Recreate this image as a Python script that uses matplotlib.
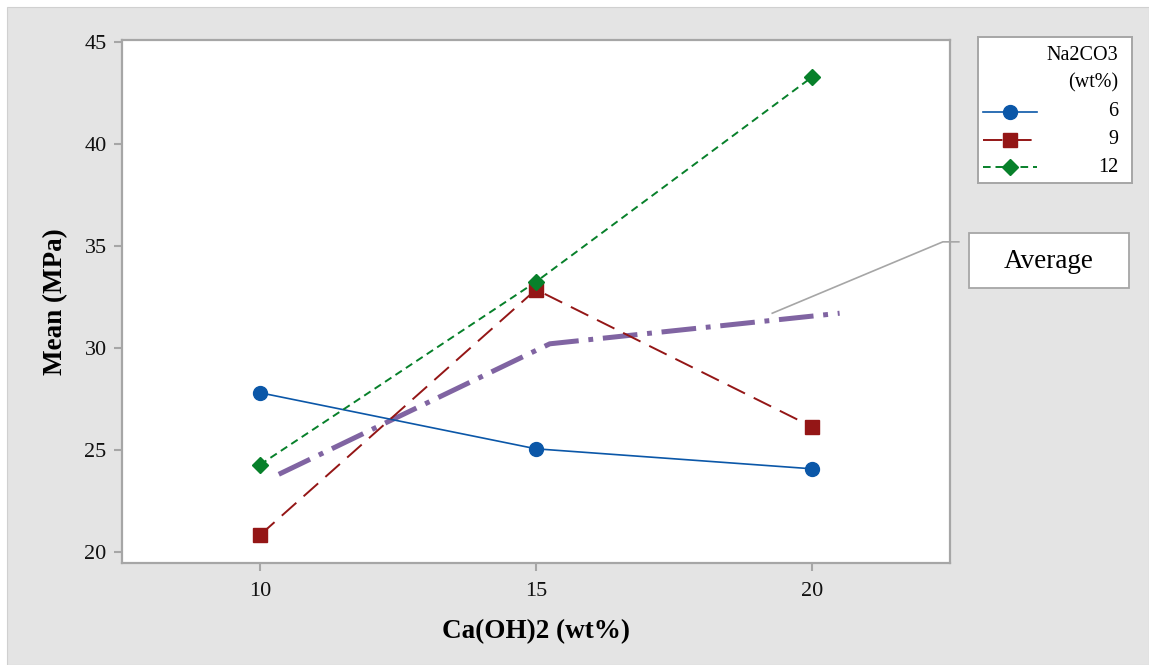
import matplotlib
matplotlib.use('Agg')
import matplotlib.pyplot as plt
from matplotlib.patches import Rectangle

plt.rcParams['font.family'] = ['Liberation Serif', 'DejaVu Serif']
plt.rcParams['lines.scale_dashes'] = False

# Ca(OH)2 loading on the x axis, one series per Na2CO3 level
ca_oh2 = [10, 15, 20]
na2co3_levels = ['6', '9', '12']
mean_6 = [27.8, 25.05, 24.07]
mean_9 = [20.82, 32.86, 26.13]
mean_12 = [24.27, 33.24, 43.28]

# hand-drawn average trend and where its callout starts
avg_x = [10.34, 15.25, 20.5]
avg_y = [23.8, 30.2, 31.7]
callout_x = [19.28, 22.37, 22.66]
callout_y = [31.7, 35.2, 35.2]

yticks = [20, 25, 30, 35, 40, 45]
xticks = [10, 15, 20]

blue = '#0b57a8'
red = '#941616'
green = '#07802a'
purple = '#8064a2'
grey = '#a6a6a6'

styles = [
    dict(color=blue, marker='o', ms=10, ls='-', lw=1.2),
    dict(color=red, marker='s', ms=9.5, ls=(0, (14, 7)), lw=1.4),
    dict(color=green, marker='D', ms=8.5, ls=(0, (5.5, 3.5)), lw=1.4),
]

W, H = 1149, 665
fig = plt.figure(figsize=(W / 100, H / 100), dpi=100, facecolor='white')
fig.add_artist(Rectangle((7 / W, 0), 1 - 7 / W, 1 - 7 / H, transform=fig.transFigure,
                         fc='#e4e4e4', ec='#d0d0d0', lw=0.8, zorder=-10))

ax = fig.add_axes([122 / W, 1 - 563 / H, (950 - 122) / W, (563 - 40) / H])
ax.set_facecolor('white')
ax.set_xlim(7.5, 22.5)
ax.set_ylim(19.45, 45.1)

for vals, st in zip([mean_6, mean_9, mean_12], styles):
    ax.plot(ca_oh2, vals, **st, zorder=3)

ax.plot(avg_x, avg_y, color=purple, lw=3.6, ls=(0, (25, 7, 3.5, 7)),
        solid_capstyle='butt', dash_capstyle='butt', zorder=2)
ax.plot(callout_x, callout_y, color=grey, lw=1.2, clip_on=False, zorder=4)

ax.set_xticks(xticks)
ax.set_yticks(yticks)
ax.tick_params(axis='both', direction='out', length=6, width=1.5, color=grey,
               labelsize=16, labelcolor='#111111', pad=5)
ax.tick_params(axis='x', pad=8)
for sp in ['top', 'right', 'bottom', 'left']:
    ax.spines[sp].set_color(grey)
    ax.spines[sp].set_linewidth(1.6)

ax.set_xlabel('Ca(OH)2 (wt%)', fontsize=19.5, fontweight='bold', labelpad=13)
ax.set_ylabel('Mean (MPa)', fontsize=19.5, fontweight='bold', labelpad=12)

# legend panel drawn by hand so the labels sit flush right
lax = fig.add_axes([978 / W, 1 - 183 / H, 154 / W, 146 / H])
lax.set_xlim(978, 1132)
lax.set_ylim(183, 37)
lax.set_xticks([])
lax.set_yticks([])
for sp in lax.spines.values():
    sp.set_color(grey)
    sp.set_linewidth(1.4)
lax.text(1118, 55.5, 'Na2CO3', ha='right', va='center', fontsize=14.5)
lax.text(1118, 83, '(wt%)', ha='right', va='center', fontsize=14.5)
for i, (lab, st) in enumerate(zip(na2co3_levels, styles)):
    yy = 112 + i * 27.5
    lax.plot([983, 1037], [yy, yy], color=st['color'], ls=st['ls'], lw=st['lw'])
    lax.plot([1010], [yy], color=st['color'], marker=st['marker'], ms=st['ms'], ls='none')
    lax.text(1118, yy, lab, ha='right', va='center', fontsize=14.5)

# callout box for the average line
fig.add_artist(Rectangle((969 / W, 1 - 288 / H), 160 / W, 55 / H, transform=fig.transFigure,
                         fc='white', ec=grey, lw=1.3))
fig.text(1049 / W, 1 - 261 / H, 'Average', ha='center', va='center', fontsize=19.5)

fig.savefig('out.png', dpi=100, facecolor=fig.get_facecolor())
